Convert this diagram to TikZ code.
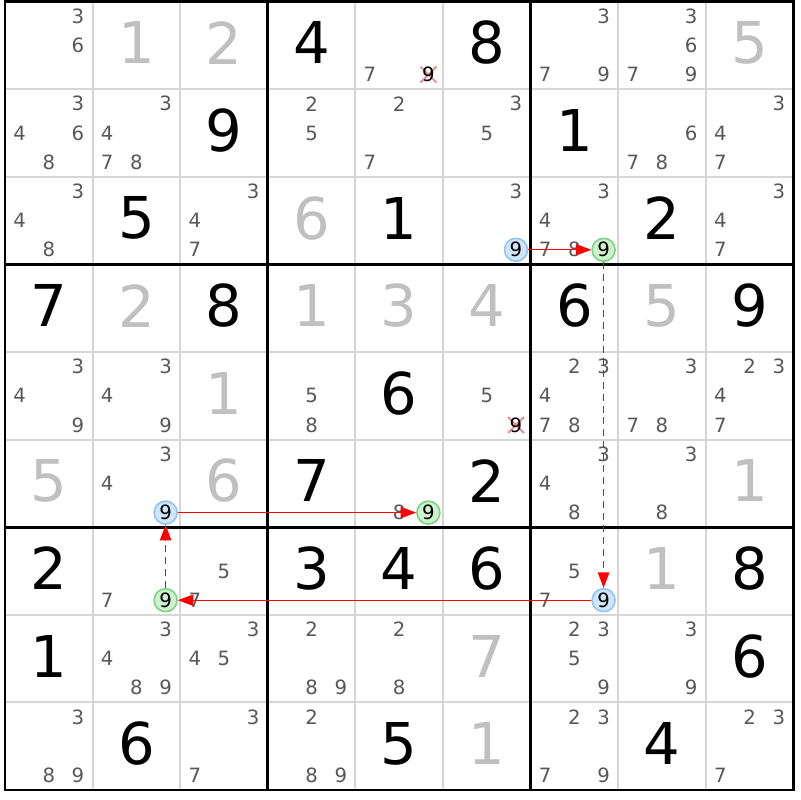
\documentclass[tikz,border=0pt]{standalone}
\usepackage{fontspec}
\setmainfont{DejaVu Sans}
\usetikzlibrary{arrows.meta}
\definecolor{givengrey}{RGB}{192,192,192}
\definecolor{candgrey}{RGB}{88,88,88}
\definecolor{gridgrey}{RGB}{214,214,214}
\definecolor{ringblue}{RGB}{144,196,240}
\definecolor{fillblue}{RGB}{206,229,250}
\definecolor{ringgreen}{RGB}{120,212,130}
\definecolor{fillgreen}{RGB}{206,241,206}
\definecolor{strikered}{RGB}{240,140,140}
\definecolor{linkred}{RGB}{255,0,0}
\tikzset{
	givenlbl/.style={text=givengrey, inner sep=0pt, font=\fontsize{41}{46}\selectfont},
	solvedlbl/.style={text=black, inner sep=0pt, font=\fontsize{41}{46}\selectfont},
	candlbl/.style={text=candgrey, inner sep=0pt, font=\fontsize{14}{16}\selectfont},
	ninelbl/.style={text=black, inner sep=0pt, font=\fontsize{14}{16}\selectfont},
	ring/.style={circle, inner sep=0pt, minimum size=0.575cm, line width=1.1pt, text=black, font=\fontsize{14}{16}\selectfont},
	bluering/.style={ring, draw=ringblue, fill=fillblue},
	greenring/.style={ring, draw=ringgreen, fill=fillgreen},
	strike/.style={draw=strikered, line width=1.3pt},
	strongln/.style={color=linkred, line width=0.7pt, -{Triangle[length=11pt,width=8pt]}},
	weakln/.style={color=linkred, line width=1.2pt, dash pattern=on 5pt off 3.5pt, -{Triangle[length=11pt,width=8pt]}}
}
\def\givenat#1#2#3{\node[givenlbl] (g#2#1) at ({5+(#1-0.5)*87.6},{1.6+(#2-0.5)*87.6-2.5}) {#3};}
\def\solvedat#1#2#3{\node[solvedlbl] (s#2#1) at ({5+(#1-0.5)*87.6},{1.6+(#2-0.5)*87.6-2.5}) {#3};}
\def\candsat#1#2#3{\foreach \d in {#3} {\node[candlbl] (c#2#1\d) at ({5+(#1-1)*87.6+(mod(\d-1,3)+0.5)*29.2},{1.6+(#2-1)*87.6+(floor((\d-1)/3)+0.5)*29.2}) {\d};}}
\def\ringat#1#2#3#4{\node[#3] (#4) at ({5+(#1-1)*87.6+73},{1.6+(#2-1)*87.6+73}) {9};}
\def\struckat#1#2{\draw[strike] ({5+(#1-1)*87.6+65},{1.6+(#2-1)*87.6+65}) -- ++(16,16) ({5+(#1-1)*87.6+81},{1.6+(#2-1)*87.6+65}) -- ++(-16,16);
	\node[ninelbl] (x#2#1) at ({5+(#1-1)*87.6+73},{1.6+(#2-1)*87.6+73}) {9};}

\begin{document}
\begin{tikzpicture}[x=0.025cm, y=-0.025cm]
			%%%%% START %%%%%
			
			\fill[white] (0, 0) rectangle (800, 800);
			\useasboundingbox (0, 0) rectangle (800, 800);
			
			\foreach \i in {1,2,4,5,7,8} {
				\draw[gridgrey, line width=1.4pt] ({5+\i*87.6}, 1.6) -- ({5+\i*87.6}, 790);
				\draw[gridgrey, line width=1.4pt] (5, {1.6+\i*87.6}) -- (793.4, {1.6+\i*87.6});
			}
			\foreach \i in {3,6} {
				\draw[line width=2.1pt] ({5+\i*87.6}, 1.6) -- ({5+\i*87.6}, 790);
				\draw[line width=2.1pt] (5, {1.6+\i*87.6}) -- (793.4, {1.6+\i*87.6});
			}
			\draw[line width=2.1pt] (5, 1.6) rectangle (793.4, 790);
			
			% row 1
			\candsat{1}{1}{3,6}
			\givenat{2}{1}{1}
			\givenat{3}{1}{2}
			\solvedat{4}{1}{4}
			\candsat{5}{1}{7}
			\struckat{5}{1}
			\solvedat{6}{1}{8}
			\candsat{7}{1}{3,7,9}
			\candsat{8}{1}{3,6,7,9}
			\givenat{9}{1}{5}
			
			% row 2
			\candsat{1}{2}{3,4,6,8}
			\candsat{2}{2}{3,4,7,8}
			\solvedat{3}{2}{9}
			\candsat{4}{2}{2,5}
			\candsat{5}{2}{2,7}
			\candsat{6}{2}{3,5}
			\solvedat{7}{2}{1}
			\candsat{8}{2}{6,7,8}
			\candsat{9}{2}{3,4,7}
			
			% row 3
			\candsat{1}{3}{3,4,8}
			\solvedat{2}{3}{5}
			\candsat{3}{3}{3,4,7}
			\givenat{4}{3}{6}
			\solvedat{5}{3}{1}
			\candsat{6}{3}{3}
			\ringat{6}{3}{bluering}{r36}
			\candsat{7}{3}{3,4,7,8}
			\ringat{7}{3}{greenring}{r37}
			\solvedat{8}{3}{2}
			\candsat{9}{3}{3,4,7}
			
			% row 4
			\solvedat{1}{4}{7}
			\givenat{2}{4}{2}
			\solvedat{3}{4}{8}
			\givenat{4}{4}{1}
			\givenat{5}{4}{3}
			\givenat{6}{4}{4}
			\solvedat{7}{4}{6}
			\givenat{8}{4}{5}
			\solvedat{9}{4}{9}
			
			% row 5
			\candsat{1}{5}{3,4,9}
			\candsat{2}{5}{3,4,9}
			\givenat{3}{5}{1}
			\candsat{4}{5}{5,8}
			\solvedat{5}{5}{6}
			\candsat{6}{5}{5}
			\struckat{6}{5}
			\candsat{7}{5}{2,3,4,7,8}
			\candsat{8}{5}{3,7,8}
			\candsat{9}{5}{2,3,4,7}
			
			% row 6
			\givenat{1}{6}{5}
			\candsat{2}{6}{3,4}
			\ringat{2}{6}{bluering}{r62}
			\givenat{3}{6}{6}
			\solvedat{4}{6}{7}
			\candsat{5}{6}{8}
			\ringat{5}{6}{greenring}{r65}
			\solvedat{6}{6}{2}
			\candsat{7}{6}{3,4,8}
			\candsat{8}{6}{3,8}
			\givenat{9}{6}{1}
			
			% row 7
			\solvedat{1}{7}{2}
			\candsat{2}{7}{7}
			\ringat{2}{7}{greenring}{r72}
			\candsat{3}{7}{5,7}
			\solvedat{4}{7}{3}
			\solvedat{5}{7}{4}
			\solvedat{6}{7}{6}
			\candsat{7}{7}{5,7}
			\ringat{7}{7}{bluering}{r77}
			\givenat{8}{7}{1}
			\solvedat{9}{7}{8}
			
			% row 8
			\solvedat{1}{8}{1}
			\candsat{2}{8}{3,4,8,9}
			\candsat{3}{8}{3,4,5}
			\candsat{4}{8}{2,8,9}
			\candsat{5}{8}{2,8}
			\givenat{6}{8}{7}
			\candsat{7}{8}{2,3,5,9}
			\candsat{8}{8}{3,9}
			\solvedat{9}{8}{6}
			
			% row 9
			\candsat{1}{9}{3,8,9}
			\solvedat{2}{9}{6}
			\candsat{3}{9}{3,7}
			\candsat{4}{9}{2,8,9}
			\solvedat{5}{9}{5}
			\givenat{6}{9}{1}
			\candsat{7}{9}{2,3,7,9}
			\solvedat{8}{9}{4}
			\candsat{9}{9}{2,3,7}
			
			% chain
			\draw[strongln] (r36) -- (r37);
			\draw[weakln] (r37) -- (r77);
			\draw[strongln] (r77) -- (r72);
			\draw[weakln] (r72) -- (r62);
			\draw[strongln] (r62) -- (r65);
			
			%%%%% END %%%%%
		\end{tikzpicture}
\end{document}
